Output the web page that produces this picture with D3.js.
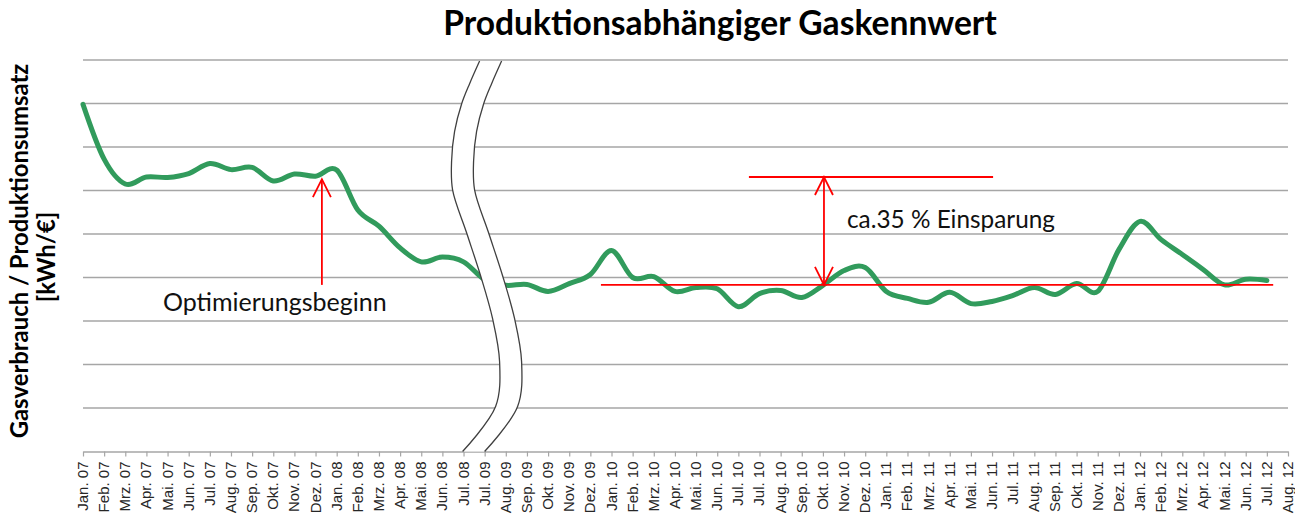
<!DOCTYPE html>
<html>
<head>
<meta charset="utf-8">
<script src="https://cdn.jsdelivr.net/npm/d3@7"></script>
<style>
  body { margin: 0; background: #fff; }
  svg { display: block; }
</style>
</head>
<body>
<div id="chart"></div>
<script>
// month labels (note: "Jul. 10" appears twice in the original)
var labels = [
  "Jan. 07","Feb. 07","Mrz. 07","Apr. 07","Mai. 07","Jun. 07","Jul. 07","Aug. 07","Sep. 07","Okt. 07",
  "Nov. 07","Dez. 07","Jan. 08","Feb. 08","Mrz. 08","Apr. 08","Mai. 08","Jun. 08","Jul. 08",
  "Jul. 09","Aug. 09","Sep. 09","Okt. 09","Nov. 09","Dez. 09","Jan. 10","Feb. 10","Mrz. 10","Apr. 10",
  "Mai. 10","Jun. 10","Jul. 10","Jul. 10","Aug. 10","Sep. 10","Okt. 10","Nov. 10","Dez. 10",
  "Jan. 11","Feb. 11","Mrz. 11","Apr. 11","Mai. 11","Jun. 11","Jul. 11","Aug. 11","Sep. 11","Okt. 11",
  "Nov. 11","Dez. 11","Jan. 12","Feb. 12","Mrz. 12","Apr. 12","Mai. 12","Jun. 12","Jul. 12","Aug. 12"
];

// Gaskennwert [kWh/€]
var kennwert = [
  7.98, 6.72, 6.15, 6.31, 6.30, 6.39, 6.62, 6.48, 6.53, 6.22, 6.38, 6.33, 6.47, 5.55, 5.18, 4.68, 4.36, 4.47, 4.36,
  3.95, 3.82, 3.84, 3.68, 3.86, 4.07, 4.62, 4.00, 4.02, 3.68, 3.77, 3.74, 3.33, 3.63, 3.70, 3.54, 3.82, 4.16, 4.23,
  3.68, 3.52, 3.43, 3.66, 3.40, 3.45, 3.59, 3.77, 3.61, 3.86, 3.68, 4.64, 5.29, 4.87, 4.53, 4.18, 3.83, 3.96, 3.93
];

var gridValues = [1, 2, 3, 4, 5, 6, 7, 8, 9];
var breakAfter = 18; // axis break between Jul. 08 and Jul. 09

// annotations in category index / value units
var startArrow = { i: 11.3, from: 3.83, to: 6.26 };
var startText = { i: 3.78, v: 3.23, text: "Optimierungsbeginn" };
var levelBefore = { i1: 31.5, i2: 43.05, v: 6.31 };
var levelAfter = { i1: 24.5, i2: 56.3, v: 3.83 };
var savingArrow = { i: 35.05 };
var savingText = { i: 36.14, v: 5.14, text: "ca.35 % Einsparung" };

var svgWidth = 1295;
var svgHeight = 515;

var svg = d3.select("#chart")
  .append("svg")
  .attr("width", svgWidth)
  .attr("height", svgHeight);

var x = d3.scalePoint()
  .domain(d3.range(labels.length))
  .range([83, 1288]);
var xf = function(i) { return x(0) + i * x.step(); };

var y = d3.scaleLinear()
  .domain([0, 9])
  .range([451.5, 60]);

function fit(sel, width) {
  var size = parseFloat(sel.attr("font-size"));
  var len = sel.node().getComputedTextLength();
  sel.attr("font-size", size * width / len);
}

// gridlines
svg.append("g")
  .selectAll("line")
  .data(gridValues)
  .enter()
  .append("line")
  .attr("x1", x(0))
  .attr("x2", x(labels.length - 1))
  .attr("y1", d => y(d))
  .attr("y2", d => y(d))
  .attr("stroke", "#a6a6a6")
  .attr("stroke-width", 1.5);

// x axis
var bottomAxis = d3.axisBottom(x)
  .tickSize(5)
  .tickSizeOuter(0)
  .tickFormat(i => labels[i]);

var axisG = svg.append("g")
  .attr("transform", `translate(0, ${y(0)})`)
  .call(bottomAxis);

axisG.select(".domain").attr("stroke", "#a6a6a6").attr("stroke-width", 1.5);
axisG.selectAll(".tick line").attr("stroke", "#a6a6a6").attr("stroke-width", 1.2);
axisG.selectAll(".tick text")
  .attr("transform", "rotate(-90)")
  .attr("text-anchor", "end")
  .attr("x", -10)
  .attr("y", 0)
  .attr("dy", "0.3em")
  .attr("fill", "#262626")
  .style("font-family", "'Liberation Sans', Arial, sans-serif")
  .style("font-size", "15px");

// the line
var line = d3.line()
  .x((d, i) => x(i))
  .y(d => y(d))
  .curve(d3.curveCardinal.tension(0));

svg.append("path")
  .datum(kennwert)
  .attr("d", line)
  .attr("fill", "none")
  .attr("stroke", "#319b5c")
  .attr("stroke-width", 5)
  .attr("stroke-linecap", "round")
  .attr("stroke-linejoin", "round");

// axis break (white S-shaped band)
var breakMid = (x(breakAfter) + x(breakAfter + 1)) / 2;
var breakWidth = 22;
var breakShape = [
  [5.5, 0.0], [-4.5, 0.058], [-12.5, 0.11], [-19.5, 0.18], [-22.5, 0.256], [-21.5, 0.33],
  [-7.5, 0.44], [6.5, 0.55], [18.5, 0.66], [25.5, 0.77], [21.5, 0.885], [-11.5, 1.0]
];
var yTop = y(9) + 1, yBot = y(0);
var leftPts = breakShape.map(p => [breakMid + p[0], yTop + p[1] * (yBot - yTop)]);
var rightPts = leftPts.map(p => [p[0] + breakWidth, p[1]]);
var bLine = d3.line().curve(d3.curveCatmullRom);

var bandPath = bLine(leftPts) + "L" + bLine(rightPts.slice().reverse()).substring(1) + "Z";
svg.append("path").attr("d", bandPath).attr("fill", "#fff").attr("stroke", "none");
svg.append("path").attr("d", bLine(leftPts)).attr("fill", "none").attr("stroke", "#404040").attr("stroke-width", 1.3);
svg.append("path").attr("d", bLine(rightPts)).attr("fill", "none").attr("stroke", "#404040").attr("stroke-width", 1.3);

// red annotations
var red = "#ff0000";
function arrowHead(g, px, py, dir) {
  // dir = 1: tip points up, -1: tip points down
  g.append("path")
    .attr("d", `M${px - 9},${py + dir * 18}L${px},${py}L${px + 9},${py + dir * 18}`)
    .attr("fill", "none")
    .attr("stroke", red)
    .attr("stroke-width", 1.8);
}

var ann = svg.append("g");

ann.append("line")
  .attr("x1", xf(startArrow.i)).attr("x2", xf(startArrow.i))
  .attr("y1", y(startArrow.from)).attr("y2", y(startArrow.to))
  .attr("stroke", red).attr("stroke-width", 1.8);
arrowHead(ann, xf(startArrow.i), y(startArrow.to), 1);

[levelBefore, levelAfter].forEach(function(l) {
  ann.append("line")
    .attr("x1", xf(l.i1)).attr("x2", xf(l.i2))
    .attr("y1", y(l.v)).attr("y2", y(l.v))
    .attr("stroke", red).attr("stroke-width", 1.8);
});

ann.append("line")
  .attr("x1", xf(savingArrow.i)).attr("x2", xf(savingArrow.i))
  .attr("y1", y(levelAfter.v)).attr("y2", y(levelBefore.v))
  .attr("stroke", red).attr("stroke-width", 1.8);
arrowHead(ann, xf(savingArrow.i), y(levelBefore.v), 1);
arrowHead(ann, xf(savingArrow.i), y(levelAfter.v), -1);

var t1 = svg.append("text")
  .attr("x", xf(startText.i))
  .attr("y", y(startText.v))
  .attr("font-family", "Lato, 'Open Sans', sans-serif")
  .attr("font-size", 22)
  .attr("fill", "#111")
  .text(startText.text);
fit(t1, 224);

var t2 = svg.append("text")
  .attr("x", xf(savingText.i))
  .attr("y", y(savingText.v))
  .attr("font-family", "Lato, 'Open Sans', sans-serif")
  .attr("font-size", 22)
  .attr("fill", "#111")
  .text(savingText.text);
fit(t2, 208);

// title
var title = svg.append("text")
  .attr("x", 720)
  .attr("y", 35)
  .attr("text-anchor", "middle")
  .attr("font-family", "Lato, 'DejaVu Sans', sans-serif")
  .attr("font-weight", "bold")
  .attr("font-size", 28)
  .attr("fill", "#000")
  .text("Produktionsabhängiger Gaskennwert");
fit(title, 554);

// y axis label
var yl1 = svg.append("text")
  .attr("transform", "translate(28, 251) rotate(-90)")
  .attr("text-anchor", "middle")
  .attr("font-family", "Lato, 'DejaVu Sans', sans-serif")
  .attr("font-weight", "bold")
  .attr("font-size", 19)
  .attr("fill", "#000")
  .text("Gasverbrauch / Produktionsumsatz");
fit(yl1, 375);

svg.append("text")
  .attr("transform", "translate(55, 257) rotate(-90)")
  .attr("text-anchor", "middle")
  .attr("font-family", "Lato, 'DejaVu Sans', sans-serif")
  .attr("font-weight", "bold")
  .attr("font-size", yl1.attr("font-size"))
  .attr("fill", "#000")
  .text("[kWh/€]");
</script>
</body>
</html>
